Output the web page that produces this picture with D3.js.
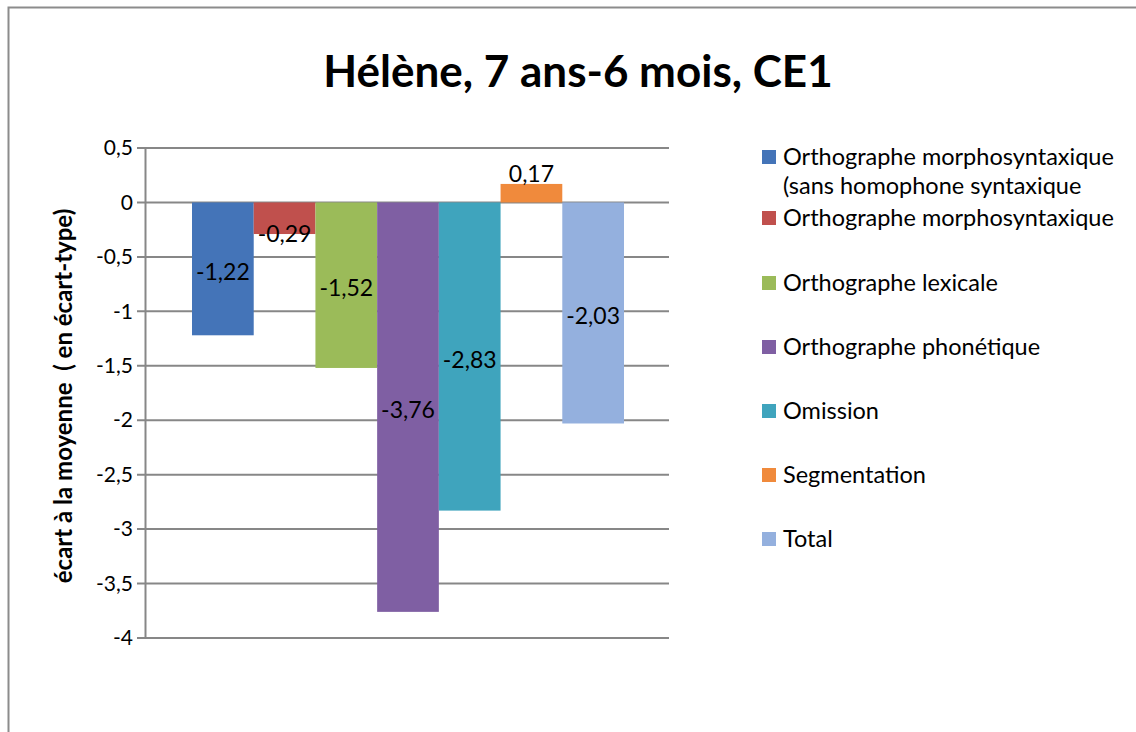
<!DOCTYPE html>
<html>
<head>
<meta charset="utf-8">
<script src="https://cdn.jsdelivr.net/npm/d3@7"></script>
<style>
  body { margin: 0; background: #fff; }
  svg text { font-family: Lato, "Open Sans", sans-serif; fill: #000; }
</style>
</head>
<body>
<div id="chart"></div>
<script>
// chart data
const series = [
  "Orthographe morphosyntaxique (sans homophone syntaxique",
  "Orthographe morphosyntaxique",
  "Orthographe lexicale",
  "Orthographe phonétique",
  "Omission",
  "Segmentation",
  "Total"
];
const values = [-1.22, -0.29, -1.52, -3.76, -2.83, 0.17, -2.03];
const colors = ["#4474b8", "#c0504d", "#9bbb59", "#7f5fa3", "#3fa4bd", "#f08a3c", "#94b0de"];
const yTicks = [0.5, 0, -0.5, -1, -1.5, -2, -2.5, -3, -3.5, -4];

const W = 1136, H = 732;
const plot = {left: 145, right: 669, top: 148, bottom: 638};
const fmt = v => String(v).replace(".", ",");

const svg = d3.select("#chart").append("svg")
    .attr("width", W).attr("height", H);

// outer chart border
svg.append("rect")
    .attr("x", 8.5).attr("y", 7.5)
    .attr("width", W + 10).attr("height", H + 10)
    .attr("fill", "none").attr("stroke", "#8c8c8c").attr("stroke-width", 2);

svg.append("text")
    .attr("x", 578).attr("y", 87)
    .attr("text-anchor", "middle")
    .style("font-size", "44px").style("font-weight", "bold")
    .text("Hélène, 7 ans-6 mois, CE1");

const y = d3.scaleLinear().domain([-4, 0.5]).range([plot.bottom, plot.top]);
const x = d3.scaleBand().domain(series)
    .range([192, 624]).padding(0);

// gridlines
svg.append("g").selectAll("line").data(yTicks).join("line")
    .attr("x1", plot.left - 8).attr("x2", plot.right)
    .attr("y1", d => y(d)).attr("y2", d => y(d))
    .attr("stroke", "#878787").attr("stroke-width", 2);

// y axis
const yAxis = svg.append("g")
    .attr("transform", `translate(${plot.left},0)`)
    .call(d3.axisLeft(y).tickValues(yTicks).tickFormat(fmt).tickSize(0).tickPadding(12));
yAxis.select(".domain").attr("stroke", "#878787").attr("stroke-width", 2);
yAxis.selectAll("text").style("font-size", "21px").style("font-family", "Lato, sans-serif");

svg.append("text")
    .attr("transform", "translate(72,396) rotate(-90)")
    .attr("text-anchor", "middle")
    .style("font-size", "24px").style("font-weight", "bold")
    .style("white-space", "pre")
    .text("écart à la moyenne  ( en écart-type)");

// bars
svg.append("g").selectAll("rect").data(values).join("rect")
    .attr("x", (d, i) => x(series[i]))
    .attr("width", x.bandwidth())
    .attr("y", d => y(Math.max(0, d)))
    .attr("height", d => Math.abs(y(d) - y(0)))
    .attr("fill", (d, i) => colors[i]);

// value labels
svg.append("g").selectAll("text").data(values).join("text")
    .attr("x", (d, i) => x(series[i]) + x.bandwidth() / 2)
    .attr("y", d => {
      if (d > 0) return y(d) - 2;
      if (Math.abs(y(d) - y(0)) < 40) return y(d) + 8;
      return (y(0) + y(d)) / 2 + 11;
    })
    .attr("text-anchor", "middle")
    .style("font-size", "23px")
    .text(d => fmt(d));

// legend
const legendRows = [
  {i: 0, y: 157, lines: ["Orthographe morphosyntaxique", "(sans homophone syntaxique"]},
  {i: 1, y: 218, lines: ["Orthographe morphosyntaxique"]},
  {i: 2, y: 283, lines: ["Orthographe lexicale"]},
  {i: 3, y: 347, lines: ["Orthographe phonétique"]},
  {i: 4, y: 411, lines: ["Omission"]},
  {i: 5, y: 475, lines: ["Segmentation"]},
  {i: 6, y: 539, lines: ["Total"]}
];
const legend = svg.append("g");
legendRows.forEach(r => {
  legend.append("rect")
      .attr("x", 762).attr("y", r.y - 7)
      .attr("width", 14).attr("height", 14)
      .attr("fill", colors[r.i]);
  const t = legend.append("text")
      .attr("x", 783).attr("y", r.y + 8)
      .style("font-size", "23.5px");
  r.lines.forEach((line, k) => {
    t.append("tspan")
        .attr("x", 783)
        .attr("dy", k === 0 ? 0 : 28.5)
        .text(line);
  });
});
</script>
</body>
</html>
